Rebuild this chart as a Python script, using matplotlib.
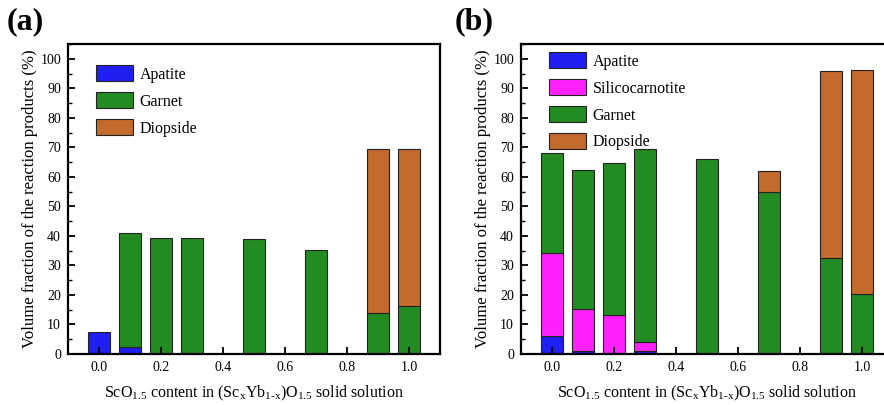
import matplotlib
matplotlib.use("Agg")
import matplotlib.pyplot as plt
import numpy as np
from matplotlib.ticker import MultipleLocator
from matplotlib.patches import Patch

plt.rcParams['font.family'] = ['Liberation Serif', 'DejaVu Serif']
plt.rcParams['mathtext.fontset'] = 'custom'
plt.rcParams['mathtext.rm'] = 'Liberation Serif'
plt.rcParams['mathtext.it'] = 'Liberation Serif:italic'

# ---- data ----
x_a = [0.0, 0.1, 0.2, 0.3, 0.5, 0.7, 0.9, 1.0]
apatite_a = [7.5, 2.3, 0, 0, 0, 0, 0, 0]
garnet_a = [0, 38.6, 39.2, 39.4, 39.0, 35.2, 13.9, 16.1]
diopside_a = [0, 0, 0, 0, 0, 0, 55.4, 53.5]

x_b = [0.0, 0.1, 0.2, 0.3, 0.5, 0.7, 0.9, 1.0]
apatite_b = [6.2, 1.1, 0.5, 0.9, 0, 0, 0, 0]
silico_b = [27.9, 14.1, 12.7, 3.2, 0, 0, 0, 0]
garnet_b = [34.0, 47.2, 51.5, 65.5, 66.0, 55.0, 32.4, 20.3]
diopside_b = [0, 0, 0, 0, 0, 7.1, 63.5, 76.0]

xticks = [0.0, 0.2, 0.4, 0.6, 0.8, 1.0]
yticks = list(range(0, 101, 10))

C_AP = '#1f1ff2'
C_SI = '#ff22ff'
C_GA = '#228b22'
C_DI = '#c26b2c'

W, H = 884, 405
fig = plt.figure(figsize=(W / 100, H / 100), dpi=100)

ax_a = fig.add_axes([68 / W, 1 - 354 / H, 372 / W, 310 / H])
ax_b = fig.add_axes([521 / W, 1 - 354 / H, 372 / W, 310 / H])

bw = 0.07
ekw = dict(edgecolor='#222222', linewidth=0.8, width=bw)


def stack(ax, x, series):
    bottom = np.zeros(len(x))
    for vals, col in series:
        vals = np.array(vals, dtype=float)
        mask = vals > 0
        ax.bar(np.array(x)[mask], vals[mask], bottom=bottom[mask], color=col, **ekw)
        bottom = bottom + vals


stack(ax_a, x_a, [(apatite_a, C_AP), (garnet_a, C_GA), (diopside_a, C_DI)])
stack(ax_b, x_b, [(apatite_b, C_AP), (silico_b, C_SI), (garnet_b, C_GA), (diopside_b, C_DI)])

xlabel = r'ScO$_{1.5}$ content in (Sc$_{\mathrm{x}}$Yb$_{\mathrm{1\text{-}x}}$)O$_{1.5}$ solid solution'

for ax in (ax_a, ax_b):
    ax.set_xlim(-0.1, 1.1)
    ax.set_ylim(0, 105)
    ax.set_xticks(xticks)
    ax.set_xticklabels([f'{t:.1f}' for t in xticks])
    ax.set_yticks(yticks)
    ax.yaxis.set_minor_locator(MultipleLocator(5))
    ax.tick_params(direction='in', length=5, width=1.3, labelsize=10, pad=5)
    ax.tick_params(which='minor', direction='in', length=3, width=1.0)
    ax.tick_params(axis='x', top=False)
    for s in ax.spines.values():
        s.set_linewidth(1.6)
    ax.set_ylabel('Volume fraction of the reaction products (%)', fontsize=12, labelpad=2)
    ax.set_xlabel(xlabel, fontsize=11.5, labelpad=7)

leg_kw = dict(frameon=False, fontsize=11.5, handlelength=2.3, handleheight=1.15,
              labelspacing=0.6, handletextpad=0.4, borderaxespad=0)
h_a = [Patch(facecolor=C_AP, edgecolor='#222222', linewidth=0.8),
       Patch(facecolor=C_GA, edgecolor='#222222', linewidth=0.8),
       Patch(facecolor=C_DI, edgecolor='#222222', linewidth=0.8)]
ax_a.legend(h_a, ['Apatite', 'Garnet', 'Diopside'], loc='upper left',
            bbox_to_anchor=(22 / 372, 1 - 15 / 310), **leg_kw)
h_b = [Patch(facecolor=C_AP, edgecolor='#222222', linewidth=0.8),
       Patch(facecolor=C_SI, edgecolor='#222222', linewidth=0.8),
       Patch(facecolor=C_GA, edgecolor='#222222', linewidth=0.8),
       Patch(facecolor=C_DI, edgecolor='#222222', linewidth=0.8)]
ax_b.legend(h_b, ['Apatite', 'Silicocarnotite', 'Garnet', 'Diopside'], loc='upper left',
            bbox_to_anchor=(22 / 372, 1 - 2 / 310), **leg_kw)

fig.text(7 / W, 1 - 22 / H, '(a)', fontsize=23, fontweight='bold', va='center', ha='left')
fig.text(455 / W, 1 - 22 / H, '(b)', fontsize=23, fontweight='bold', va='center', ha='left')

fig.savefig('out.png', dpi=100)
